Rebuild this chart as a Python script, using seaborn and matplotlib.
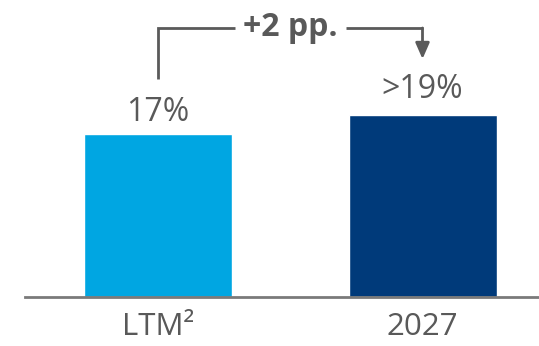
import matplotlib
matplotlib.use("Agg")
import matplotlib.pyplot as plt
import seaborn as sns
import pandas as pd

# Data
categories = ["LTM²", "2027"]
values = [17, 19]
value_labels = ["17%", ">19%"]
change_label = "+2 pp."

bar_colors = ["#00a6e2", "#003a7a"]
text_color = "#595959"
line_color = "#5a5a5a"

sns.set_theme(style="white")
plt.rcParams["font.family"] = ["Open Sans", "DejaVu Sans"]

W, H, DPI = 539, 346, 100
fig = plt.figure(figsize=(W / DPI, H / DPI), dpi=DPI)

base_px = 296.7          # baseline, pixels from top
left_px = 25             # baseline start
px_per_unit = 9.55       # vertical scale
c0_px, c1_px = 158, 422.5
step = c1_px - c0_px

ax = fig.add_axes([left_px / W, (H - base_px) / H, 1 - left_px / W, base_px / H])

df = pd.DataFrame({"cat": categories, "val": values})
sns.barplot(data=df, x="cat", y="val", hue="cat", palette=bar_colors,
            width=148 / step, legend=False, ax=ax, saturation=1)

ax.set_xlim(-(c0_px - left_px) / step, 1 + (W - c1_px) / step)
ax.set_ylim(0, base_px / px_per_unit)

for s in ["top", "right", "left"]:
    ax.spines[s].set_visible(False)
ax.spines["bottom"].set_color("#7a7a7a")
ax.spines["bottom"].set_linewidth(2)
ax.set_yticks([])
ax.set_xlabel("")
ax.set_ylabel("")
ax.tick_params(axis="x", length=0, pad=11, labelsize=22.5, labelcolor=text_color)

# value labels above bars
label_gaps_px = [13, 17]
for i, (v, lab) in enumerate(zip(values, value_labels)):
    ax.annotate(lab, (i, v), xytext=(0, label_gaps_px[i] * 72 / DPI),
                textcoords="offset points", ha="center", va="baseline",
                fontsize=23, color=text_color)

# change bracket between the two bars
def py(px):
    return (base_px - px) / px_per_unit

def px_x(px):
    return (px - c0_px) / step

top_y = py(28)
ax.plot([0, 0, px_x(235)], [py(79), top_y, top_y], color=line_color, lw=2,
        solid_capstyle="butt", solid_joinstyle="miter", clip_on=False)
ax.plot([px_x(346), 1], [top_y, top_y], color=line_color, lw=2,
        solid_capstyle="butt", clip_on=False)
ax.annotate("", xy=(1, py(59)), xytext=(1, top_y),
            arrowprops=dict(arrowstyle="-|>,head_length=0.8,head_width=0.35",
                            color=line_color, lw=2, shrinkA=0, shrinkB=0),
            annotation_clip=False)
ax.text(0.5, top_y, change_label, ha="center", va="center", fontsize=23,
        fontweight="bold", color=text_color)

fig.savefig("out.png", dpi=DPI)
